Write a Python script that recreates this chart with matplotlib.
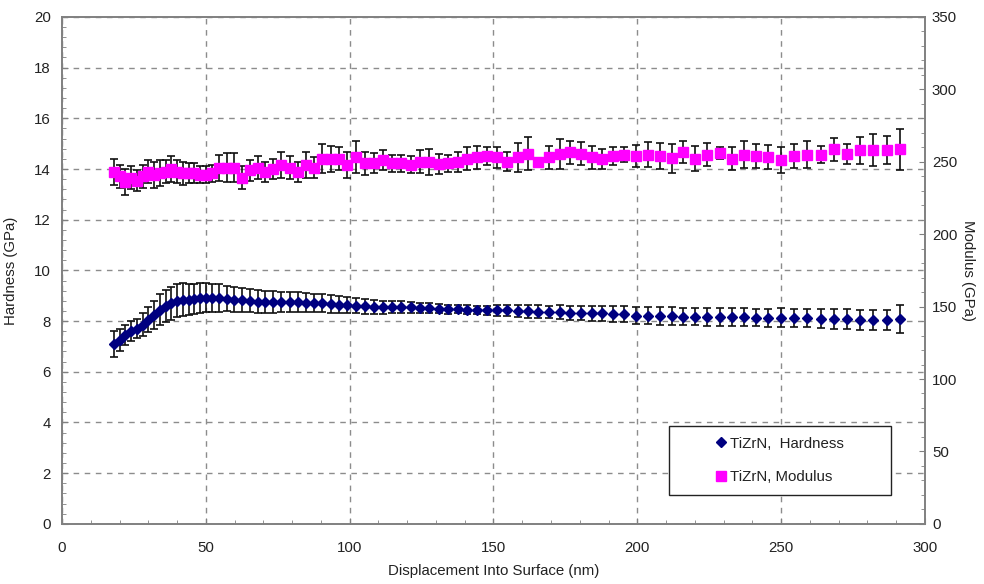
import matplotlib
matplotlib.use("Agg")
import matplotlib.pyplot as plt
from matplotlib.patches import Rectangle
from matplotlib.ticker import MultipleLocator

plt.rcParams["font.family"] = ["Liberation Sans", "DejaVu Sans"]

# displacement into surface (nm)
depth = [
    18, 20, 22, 24, 26, 28, 30, 32, 34, 36, 38, 40, 42, 44, 46, 48, 50, 52,
    54.6, 57.2, 59.9, 62.6, 65.3, 68.0, 70.7, 73.5, 76.3, 79.1, 81.9, 84.7, 87.6, 90.5, 93.4, 96.3, 99.2,
    102.3, 105.4, 108.5, 111.6, 114.8, 118.0, 121.2, 124.4, 127.6, 130.9, 134.2, 137.5, 140.8, 144.2, 147.6,
    151.2, 154.8, 158.4, 162.0, 165.6, 169.3, 173.0, 176.7, 180.4, 184.1, 187.9, 191.7, 195.5,
    199.6, 203.7, 207.8, 211.9, 216.0, 220.2, 224.4, 228.6, 232.8, 237.0, 241.3, 245.6,
    250.1, 254.6, 259.1, 263.7, 268.3, 272.9, 277.5, 282.1, 286.7, 291.3,
]

# hardness (GPa) and std dev
hardness = [
    7.1, 7.25, 7.45, 7.6, 7.7, 7.85, 8.05, 8.25, 8.45, 8.6, 8.7, 8.8, 8.85, 8.85, 8.88, 8.9, 8.92, 8.92,
    8.9, 8.88, 8.85, 8.82, 8.8, 8.76, 8.75, 8.75, 8.75, 8.75, 8.75, 8.73, 8.7, 8.7, 8.68, 8.65, 8.62,
    8.6, 8.58, 8.56, 8.55, 8.55, 8.54, 8.55, 8.52, 8.5, 8.48, 8.47, 8.47, 8.45, 8.44, 8.43,
    8.42, 8.42, 8.4, 8.38, 8.37, 8.36, 8.35, 8.32, 8.32, 8.3, 8.3, 8.28, 8.27,
    8.22, 8.22, 8.2, 8.2, 8.18, 8.17, 8.17, 8.16, 8.15, 8.15, 8.14, 8.13,
    8.14, 8.12, 8.12, 8.1, 8.08, 8.08, 8.05, 8.04, 8.03, 8.07,
]
hardness_err = [
    0.5, 0.45, 0.4, 0.4, 0.38, 0.45, 0.5, 0.55, 0.6, 0.62, 0.65, 0.65, 0.65, 0.62, 0.6, 0.6, 0.58, 0.55,
    0.55, 0.5, 0.5, 0.48, 0.45, 0.45, 0.42, 0.42, 0.4, 0.4, 0.38, 0.38, 0.36, 0.36, 0.35, 0.33, 0.32,
    0.3, 0.3, 0.28, 0.26, 0.25, 0.24, 0.22, 0.2, 0.2, 0.18, 0.18, 0.17, 0.17, 0.17, 0.18,
    0.2, 0.22, 0.22, 0.25, 0.25, 0.25, 0.28, 0.28, 0.28, 0.3, 0.3, 0.32, 0.32,
    0.33, 0.33, 0.35, 0.35, 0.33, 0.33, 0.35, 0.35, 0.35, 0.35, 0.35, 0.35,
    0.37, 0.37, 0.37, 0.38, 0.38, 0.38, 0.4, 0.4, 0.4, 0.55,
]

# modulus (GPa) and std dev
modulus = [
    243, 240, 236, 239, 237, 240, 243, 241, 242, 243, 245, 243, 242, 242, 242, 241, 241, 242,
    246, 246, 246, 239, 244, 246, 243, 245, 248, 246, 243, 248, 246, 252, 252, 252, 248,
    253, 249, 249, 251, 249, 249, 248, 250, 250, 248.5, 249, 250, 252, 253, 254,
    253, 250, 253, 255.5, 250, 253, 255.5, 256.5, 255.5, 253, 252, 254, 255,
    254, 255, 254, 252.5, 256.5, 252, 255, 256, 252, 255, 254, 253,
    251.5, 254, 255, 255, 258.5, 255.5, 258, 258, 258, 258.5,
]
modulus_err = [
    9, 8, 9, 8, 7, 8, 8, 9, 9, 8, 9, 8, 8, 7, 7, 6, 6, 6,
    9, 10, 10, 8, 7, 8, 7, 7, 9, 8, 7, 9, 7, 10, 9, 8, 9,
    11, 8, 7, 7, 6, 6, 6, 8, 9, 7, 6, 7, 8, 8, 6,
    7, 6.5, 10, 11.5, 1.5, 8, 10.5, 8, 8, 8, 7, 6, 5.5,
    7.5, 8.7, 9, 10, 7.5, 8.7, 8, 4, 8, 9, 8.3, 8.3,
    9, 8.5, 9.3, 5.8, 7.8, 7, 9.3, 11, 9.8, 14,
]

text_color = "#222222"
spine_color = "#808080"

fig = plt.figure(figsize=(9.84, 5.84), dpi=100)
ax = fig.add_axes([0.063, 0.103, 0.877, 0.868])
ax2 = ax.twinx()

ax.errorbar(depth, hardness, yerr=hardness_err, fmt="none", ecolor="#111111",
            elinewidth=1.2, capsize=3.2, capthick=1.2, zorder=2)
h_line, = ax.plot(depth, hardness, linestyle="none", marker="D", markersize=5.4,
                  color="#000080", zorder=3, label="TiZrN,  Hardness")

ax2.errorbar(depth, modulus, yerr=modulus_err, fmt="none", ecolor="#111111",
             elinewidth=1.2, capsize=3.2, capthick=1.2, zorder=2)
m_line, = ax2.plot(depth, modulus, linestyle="none", marker="s", markersize=6.5,
                   color="#FF00FF", zorder=3, label="TiZrN, Modulus")

ax.set_xlim(0, 300)
ax.set_ylim(0, 20)
ax2.set_ylim(0, 350)

ax.xaxis.set_major_locator(MultipleLocator(50))
ax.xaxis.set_minor_locator(MultipleLocator(10))
ax.yaxis.set_major_locator(MultipleLocator(2))
ax.yaxis.set_minor_locator(MultipleLocator(0.4))
ax2.yaxis.set_major_locator(MultipleLocator(50))
ax2.yaxis.set_minor_locator(MultipleLocator(10))

for a in (ax, ax2):
    a.tick_params(which="both", direction="in", colors=spine_color,
                  labelcolor=text_color, labelsize=10.8)
    a.tick_params(which="major", length=4)
    a.tick_params(which="minor", length=3)
    for sp in a.spines.values():
        sp.set_color(spine_color)
        sp.set_linewidth(1.2)
ax.tick_params(axis="x", pad=12)
ax.tick_params(axis="y", pad=8)
ax2.tick_params(axis="y", pad=5)

ax.grid(True, which="major", linestyle=(0, (4, 4)), color="#8c8c8c", linewidth=1.0)
ax.set_axisbelow(True)

ax.set_xlabel("Displacement Into Surface (nm)", fontsize=10.8, color=text_color)
ax.set_ylabel("Hardness (GPa)", fontsize=10.8, color=text_color)
ax2.set_ylabel("Modulus (GPa)", fontsize=10.8, color=text_color, rotation=270, va="center")
ax.xaxis.set_label_coords(0.5, -0.080)
ax.yaxis.set_label_coords(-0.051, 0.5)
ax2.yaxis.set_label_coords(1.050, 0.5)

# legend box
ax2.add_patch(Rectangle((0.703, 0.057), 0.258, 0.136, transform=ax2.transAxes,
                        facecolor="white", edgecolor="#222222", linewidth=1.0, zorder=5))
leg = ax2.legend(handles=[h_line, m_line], loc="center", bbox_to_anchor=(0.832, 0.125),
                 frameon=False, fontsize=10.8, handlelength=0.6, handletextpad=0.3,
                 labelspacing=1.3, borderpad=0.2)
leg.set_zorder(6)
for t in leg.get_texts():
    t.set_color(text_color)

fig.savefig("out.png", dpi=100)
